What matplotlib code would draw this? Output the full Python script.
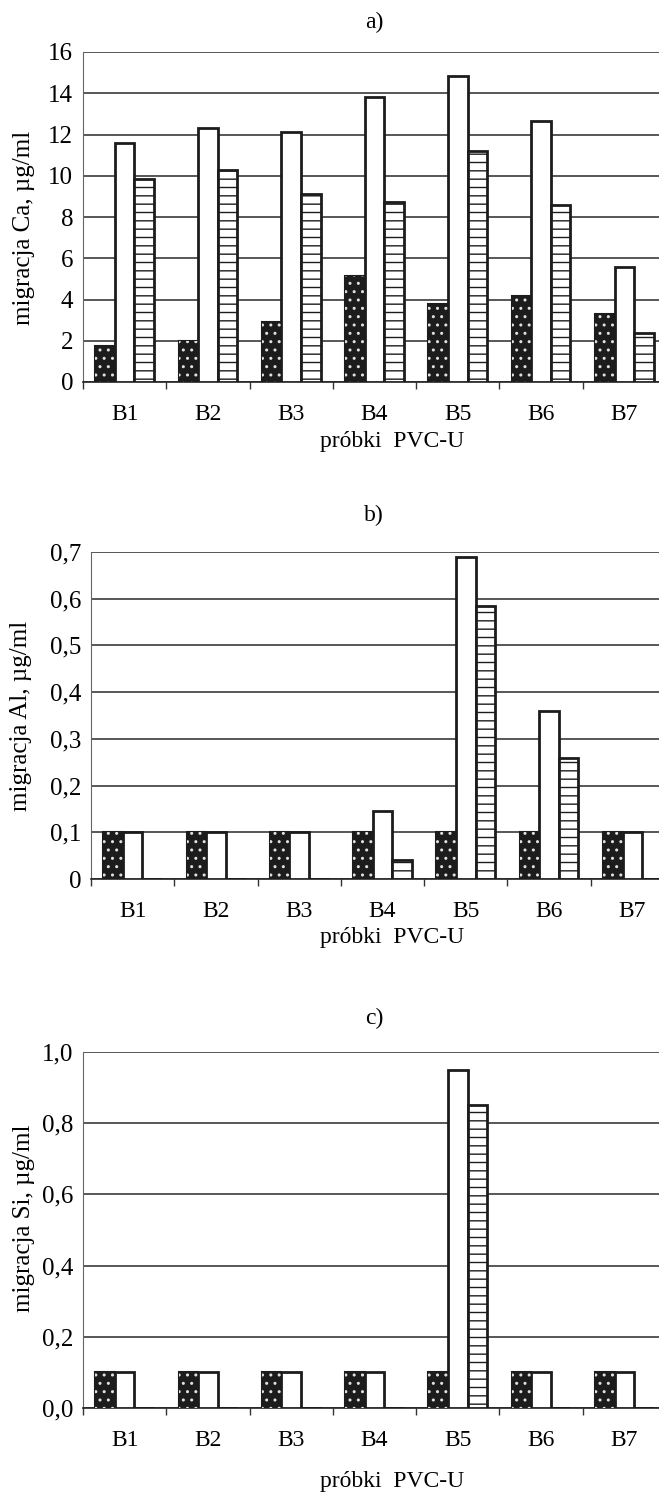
import numpy as np
import matplotlib.pyplot as plt

plt.rcParams['font.family'] = ['Liberation Serif', 'DejaVu Serif']
plt.rcParams['hatch.linewidth'] = 1.0

samples = ['B1', 'B2', 'B3', 'B4', 'B5', 'B6', 'B7']

# migracja Ca
ca_dark = [1.75, 2.0, 2.9, 5.15, 3.8, 4.15, 3.3]
ca_white = [11.6, 12.3, 12.1, 13.8, 14.85, 12.65, 5.6]
ca_lined = [9.85, 10.3, 9.1, 8.75, 11.2, 8.6, 2.4]
ca_ticks = [0, 2, 4, 6, 8, 10, 12, 14, 16]
ca_labels = ['0', '2', '4', '6', '8', '10', '12', '14', '16']

# migracja Al
al_dark = [0.1, 0.1, 0.1, 0.1, 0.1, 0.1, 0.1]
al_white = [0.1, 0.1, 0.1, 0.145, 0.69, 0.36, 0.1]
al_lined = [0, 0, 0, 0.04, 0.585, 0.26, 0]
al_ticks = [0, 0.1, 0.2, 0.3, 0.4, 0.5, 0.6, 0.7]
al_labels = ['0', '0,1', '0,2', '0,3', '0,4', '0,5', '0,6', '0,7']

# migracja Si
si_dark = [0.1, 0.1, 0.1, 0.1, 0.1, 0.1, 0.1]
si_white = [0.1, 0.1, 0.1, 0.1, 0.95, 0.1, 0.1]
si_lined = [0, 0, 0, 0, 0.85, 0, 0]
si_ticks = [0, 0.2, 0.4, 0.6, 0.8, 1.0]
si_labels = ['0,0', '0,2', '0,4', '0,6', '0,8', '1,0']

W, H = 659, 1495
fig = plt.figure(figsize=(W / 100, H / 100), dpi=100)

def px_rect(left, top, right, bottom):
    return [left / W, 1 - bottom / H, (right - left) / W, (bottom - top) / H]

panels = [
    (px_rect(83, 52, 666, 382), ca_dark, ca_white, ca_lined, ca_ticks, ca_labels,
     'migracja Ca, µg/ml', 'a)', 22, 442, (-0.101, 0.467)),
    (px_rect(91, 552, 674, 879), al_dark, al_white, al_lined, al_ticks, al_labels,
     'migracja Al, µg/ml', 'b)', 515, 938, (-0.12, 0.498)),
    (px_rect(83, 1052, 666, 1408), si_dark, si_white, si_lined, si_ticks, si_labels,
     'migracja Si, µg/ml', 'c)', 1018, 1482, (-0.101, 0.534)),
]

x = np.arange(len(samples))
bw = 0.235
dark = '#1c1c1c'

for rect, d, w, l, ticks, tlabels, ylab, title, ty, xly, ycoord in panels:
    ax = fig.add_axes(rect)
    ax.bar(x - bw, d, bw, color=dark, edgecolor=dark, linewidth=1.5, zorder=3)
    ax.bar(x - bw, d, bw, color='none', edgecolor='#e0e0e0', hatch='..', linewidth=0, zorder=4)
    ax.bar(x, w, bw, color='white', edgecolor=dark, linewidth=2, zorder=3)
    ax.bar(x + bw, l, bw, color='white', edgecolor=dark, hatch='--', linewidth=2, zorder=3)

    ax.set_xlim(-0.5, len(samples) - 0.5)
    ax.set_ylim(ticks[0], ticks[-1])
    ax.set_yticks(ticks)
    ax.set_yticklabels(tlabels, fontsize=18)
    ax.tick_params(axis='y', length=0, pad=7)
    ax.yaxis.grid(True, color='#2a2a2a', linewidth=1.1)
    ax.set_axisbelow(True)

    ax.set_xticks(np.arange(len(samples) + 1) - 0.5)
    ax.set_xticklabels([])
    ax.set_xticks(x, minor=True)
    ax.set_xticklabels(samples, minor=True, fontsize=17)
    ax.tick_params(axis='x', which='major', length=5, width=1, color='#333333')
    ax.tick_params(axis='x', which='minor', length=0, pad=16)

    for s in ['top', 'right']:
        ax.spines[s].set_visible(False)
    ax.spines['left'].set_color('#666666')
    ax.spines['bottom'].set_color('#222222')
    ax.spines['bottom'].set_linewidth(1.2)

    ax.set_ylabel(ylab, fontsize=18, va='center')
    ax.yaxis.set_label_coords(*ycoord)

    fig.text(374 / W, 1 - ty / H, title, fontsize=17, ha='center', va='center')
    fig.text(392 / W, 1 - xly / H, 'próbki  PVC-U', fontsize=17, ha='center', va='center')

fig.savefig('out.png', dpi=100)
